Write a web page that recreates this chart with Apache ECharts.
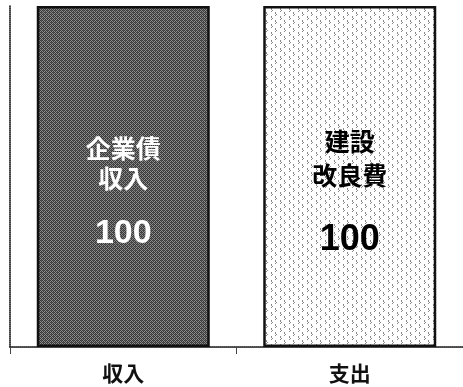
<!DOCTYPE html>
<html><head><meta charset="utf-8">
<script src="https://cdn.jsdelivr.net/npm/echarts@6/dist/echarts.min.js"></script>
<style>html,body{margin:0;padding:0;background:#fff}#c{width:463px;height:387px}</style>
</head><body><div id="c"></div>
<script>
var categories = ['収入', '支出'];
var itemNames = ['企業債\n収入', '建設\n改良費'];
var values = [100, 100];

function makeTile(kind) {
  var c = document.createElement('canvas');
  if (kind === 'dark') {
    c.width = 4; c.height = 4;
    var g = c.getContext('2d');
    g.fillStyle = '#8c8c8c'; g.fillRect(0, 0, 4, 4);
    g.fillStyle = '#3a3a3a';
    g.fillRect(0, 0, 1, 1); g.fillRect(2, 0, 1, 1);
    g.fillRect(1, 1, 1, 1); g.fillRect(3, 1, 1, 1);
    g.fillRect(0, 2, 1, 1); g.fillRect(2, 2, 1, 1);
    g.fillRect(1, 3, 1, 1); g.fillRect(3, 3, 1, 1);
    g.fillStyle = '#555';
    g.fillRect(1, 0, 1, 1); g.fillRect(3, 2, 1, 1);
  } else {
    c.width = 9; c.height = 8;
    var g = c.getContext('2d');
    g.fillStyle = '#ffffff'; g.fillRect(0, 0, 9, 8);
    g.fillStyle = '#8a8a8a';
    g.fillRect(1, 0, 1, 2); g.fillRect(2, 2, 1, 1); g.fillRect(1, 3, 1, 1);
    g.fillRect(5, 4, 1, 2); g.fillRect(6, 6, 1, 1); g.fillRect(5, 7, 1, 1);
  }
  return c;
}

var richLeft = {
  t: {fontSize: 25, fontWeight: 'bold', lineHeight: 30, color: '#fff', fontFamily: 'Noto Sans CJK JP'},
  n: {fontSize: 34, fontWeight: 'bold', lineHeight: 80, color: '#fff', fontFamily: 'Liberation Sans'}
};
var richRight = {
  t: {fontSize: 25, fontWeight: 'bold', lineHeight: 34, color: '#000', fontFamily: 'Noto Sans CJK JP'},
  n: {fontSize: 36, fontWeight: 'bold', lineHeight: 96, color: '#000', fontFamily: 'Liberation Sans'}
};

function fmt(p) {
  var lines = itemNames[p.dataIndex].split('\n').map(function (s) { return '{t|' + s + '}'; });
  return lines.join('\n') + '\n{n|' + p.value + '}';
}

var data = values.map(function (v, i) {
  return {
    value: v,
    itemStyle: {
      color: {image: makeTile(i === 0 ? 'dark' : 'light'), repeat: 'repeat'},
      borderColor: '#111',
      borderWidth: 2.5
    },
    label: {
      show: true, position: 'inside', formatter: fmt,
      offset: [0, i === 0 ? 27 : 30],
      rich: i === 0 ? richLeft : richRight
    }
  };
});

var chart = echarts.init(document.getElementById('c'));
chart.setOption({
  animation: false,
  grid: {left: 10, top: 6, bottom: 40, right: -7},
  xAxis: {
    type: 'category', data: categories,
    axisLine: {lineStyle: {color: '#111', type: [1, 1], width: 1.6}},
    axisTick: {show: true, length: 7, lineStyle: {color: '#444'}},
    axisLabel: {fontSize: 21, fontWeight: 'bold', color: '#111', margin: 16, fontFamily: 'Noto Sans CJK JP'}
  },
  yAxis: {
    type: 'value', min: 0, max: 100,
    axisLine: {show: true, lineStyle: {color: '#111', type: [1, 1], width: 1.6}},
    axisTick: {show: false}, axisLabel: {show: false}, splitLine: {show: false}
  },
  series: [{type: 'bar', barWidth: 173, data: data}]
});
</script></body></html>
